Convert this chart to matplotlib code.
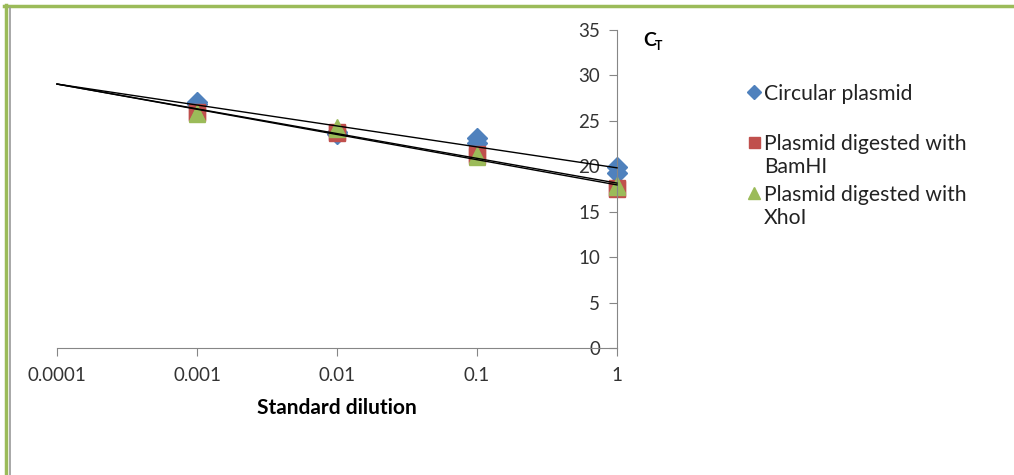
import numpy as np
import matplotlib
matplotlib.use('Agg')
import matplotlib.pyplot as plt
from matplotlib.lines import Line2D

plt.rcParams['font.family'] = ['Lato', 'DejaVu Sans']

# dilution of each measurement (two replicates per dilution)
dilution = [0.001, 0.001, 0.01, 0.01, 0.1, 0.1, 1, 1]
circular = [27.1, 26.9, 23.8, 23.6, 23.1, 22.6, 19.9, 19.3]
bamhi = [26.0, 25.9, 23.7, 23.8, 21.3, 21.1, 17.6, 17.5]
xhoi = [25.9, 25.8, 24.3, 24.1, 21.2, 21.0, 17.9, 17.7]

labels = ['Circular plasmid', 'Plasmid digested with\nBamHI',
          'Plasmid digested with\nXhoI']
colors = ['#4F81BD', '#C0504D', '#9BBB59']
markers = ['D', 's', '^']
sizes = [10, 11, 12]

fig = plt.figure(figsize=(10.14, 4.75), dpi=100)
ax = fig.add_axes([57 / 1014, 127 / 475, 560 / 1014, 318 / 475])

ax.set_xscale('log')
ax.set_xlim(0.0001, 1)
ax.set_ylim(0, 35)

# logarithmic trend lines fitted to each series
xfit = np.array([0.0001, 1])
for ys in [circular, bamhi, xhoi]:
    k, b = np.polyfit(np.log10(dilution), ys, 1)
    ax.plot(xfit, k * np.log10(xfit) + b, color='black', lw=1, zorder=3,
            clip_on=False)

for ys, c, m, s in zip([circular, bamhi, xhoi], colors, markers, sizes):
    ax.plot(dilution, ys, ls='none', marker=m, ms=s, color=c,
            mec=c, zorder=2, clip_on=False)

# y axis sits at x = 1
ax.spines['top'].set_visible(False)
ax.spines['right'].set_visible(False)
ax.spines['left'].set_position(('data', 1))
for sp in ['left', 'bottom']:
    ax.spines[sp].set_color('#868686')
ax.tick_params(axis='both', colors='#868686', labelcolor='#333333',
               labelsize=13.5, length=6)
ax.tick_params(axis='y', pad=6)
ax.tick_params(axis='x', pad=8)
ax.set_yticks(range(0, 36, 5))
ax.set_xticks([0.0001, 0.001, 0.01, 0.1, 1])
ax.set_xticklabels(['0.0001', '0.001', '0.01', '0.1', '1'])
ax.minorticks_off()

ax.set_xlabel('Standard dilution', fontsize=15, fontweight='bold',
              labelpad=10)
fig.text(643 / 1014, 1 - 41 / 475, 'C', fontsize=14, fontweight='bold',
         va='center')
fig.text(655 / 1014, 1 - 46 / 475, 'T', fontsize=9, fontweight='bold',
         va='center')

# legend
leg_y = [92, 142, 193]
for y, lab, c, m, s in zip(leg_y, labels, colors, markers, sizes):
    fig.add_artist(Line2D([754 / 1014], [1 - y / 475], ls='none',
                          marker=m, ms=s * 0.72, color=c, mec=c))
    fig.text(764 / 1014, 1 - (y - 8) / 475, lab, fontsize=15.2,
             color='#222222', va='top', linespacing=1.18)

# page border
fig.add_artist(Line2D([4 / 1014, 1], [1 - 6 / 475, 1 - 6 / 475],
                      color='#9BBB59', lw=2.5))
fig.add_artist(Line2D([6 / 1014, 6 / 1014], [0, 1 - 5 / 475],
                      color='#9BBB59', lw=2.5))
fig.add_artist(Line2D([9.5 / 1014, 9.5 / 1014], [0, 1 - 8 / 475],
                      color='#999999', lw=1.2))

fig.savefig('out.png', dpi=100)
